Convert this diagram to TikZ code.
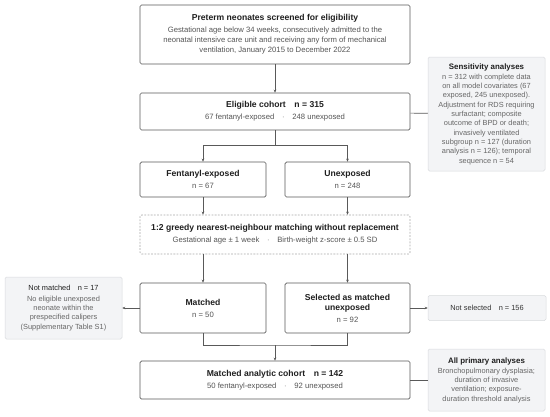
\documentclass[tikz,border=0pt]{standalone}
\usepackage{fontspec}
\setmainfont{Liberation Sans}
\usetikzlibrary{arrows.meta}
\definecolor{edgegray}{HTML}{595959}
\definecolor{textgray}{HTML}{555555}
\definecolor{sidefill}{HTML}{F3F4F6}
\definecolor{sideedge}{HTML}{D8DADD}
\definecolor{dashgray}{HTML}{A8A8A8}
\newcommand{\boxtitle}[1]{{\fontsize{8.6}{11}\selectfont\bfseries\color{black!88}#1}}
\newcommand{\sidetitle}[1]{{\fontsize{7.9}{10}\selectfont\bfseries\color{black!88}#1}}
\newcommand{\boxsep}{\quad{\color{black!45}·}\quad}

\tikzset{
  mainbox/.style={draw=edgegray, fill=white, rounded corners=1.5pt, line width=0.7pt,
    align=center, inner sep=0pt, text=textgray, font=\fontsize{7.7}{10}\selectfont},
  sidebox/.style={draw=sideedge, fill=sidefill, rounded corners=1.5pt, line width=0.5pt,
    align=center, inner sep=0pt, text=textgray!90, font=\fontsize{7.4}{9.3}\selectfont},
  dashbox/.style={mainbox, draw=dashgray, dash pattern=on 1.8pt off 1.4pt},
  flow/.style={-{Stealth[length=3pt,width=2.6pt]}, draw=edgegray, line width=0.7pt},
  link/.style={draw=edgegray, line width=0.7pt}
}

\begin{document}
\begin{tikzpicture}[x=1pt,y=-1pt]
\useasboundingbox (0,0) rectangle (550,416);

%main column
\node[mainbox, minimum width=270, minimum height=59] (screened) at (275,34.5)
  {\boxtitle{Preterm neonates screened for eligibility}\\[2pt]
   Gestational age below 34 weeks, consecutively admitted to the\\
   neonatal intensive care unit and receiving any form of mechanical\\
   ventilation, January 2015 to December 2022};
\node[mainbox, minimum width=270, minimum height=37] (eligible) at (275,111.5)
  {\boxtitle{Eligible cohort\quad n = 315}\\[2pt]
   67 fentanyl-exposed\boxsep248 unexposed};
\node[mainbox, minimum width=126, minimum height=35] (fentanyl) at (203,179.5)
  {\boxtitle{Fentanyl-exposed}\\[2pt] n = 67};
\node[mainbox, minimum width=125, minimum height=35] (unexposed) at (347.5,179.5)
  {\boxtitle{Unexposed}\\[2pt] n = 248};
\node[dashbox, minimum width=270, minimum height=39] (matching) at (275,234.5)
  {\boxtitle{1:2 greedy nearest-neighbour matching without replacement}\\[2pt]
   Gestational age ± 1 week\boxsep Birth-weight z-score ± 0.5 SD};
\node[mainbox, minimum width=126, minimum height=50] (matched) at (203,308)
  {\boxtitle{Matched}\\[2pt] n = 50};
\node[mainbox, minimum width=125, minimum height=50] (selected) at (347.5,308)
  {\boxtitle{Selected as matched}\\ \boxtitle{unexposed}\\[2pt] n = 92};
\node[mainbox, minimum width=270, minimum height=38] (analytic) at (275,380)
  {\boxtitle{Matched analytic cohort\quad n = 142}\\[2pt]
   50 fentanyl-exposed\boxsep92 unexposed};

%side boxes
\node[sidebox, minimum width=117, minimum height=114] (sensitivity) at (486.5,114)
  {\sidetitle{Sensitivity analyses}\\[1pt]
   n = 312 with complete data\\
   on all model covariates (67\\
   exposed, 245 unexposed).\\
   Adjustment for RDS requiring\\
   surfactant; composite\\
   outcome of BPD or death;\\
   invasively ventilated\\
   subgroup n = 127 (duration\\
   analysis n = 126); temporal\\
   sequence n = 54};
\node[sidebox, minimum width=117, minimum height=62] (notMatched) at (63.5,308)
  {{\color{black!88}Not matched\quad n = 17}\\[1pt]
   No eligible unexposed\\
   neonate within the\\
   prespecified calipers\\
   (Supplementary Table S1)};
\node[sidebox, minimum width=118, minimum height=25] (notSelected) at (487,308)
  {{\color{black!80}Not selected\quad n = 156}};
\node[sidebox, minimum width=117, minimum height=62] (primary) at (486.5,380)
  {\sidetitle{All primary analyses}\\[1pt]
   Bronchopulmonary dysplasia;\\
   duration of invasive\\
   ventilation; exposure-\\
   duration threshold analysis};

%connectors
\coordinate (split) at (275,145);
\coordinate (merge) at (275,345);
\draw[flow] (screened) -- (eligible);
\draw[link] (eligible) -- (sensitivity);
\draw[link] (eligible) -- (split);
\draw[flow] (split) -| (fentanyl);
\draw[flow] (split) -| (unexposed);
\draw[flow] (fentanyl) -- (fentanyl |- matching.north);
\draw[flow] (unexposed) -- (unexposed |- matching.north);
\draw[flow] (matched |- matching.south) -- (matched);
\draw[flow] (selected |- matching.south) -- (selected);
\draw[flow] (matched) -- (notMatched);
\draw[flow] (selected) -- (notSelected);
\draw[link] (matched) |- (merge) -| (selected);
\draw[flow] (merge) -- (analytic);
\draw[link] (analytic) -- (primary);
\end{tikzpicture}
\end{document}
